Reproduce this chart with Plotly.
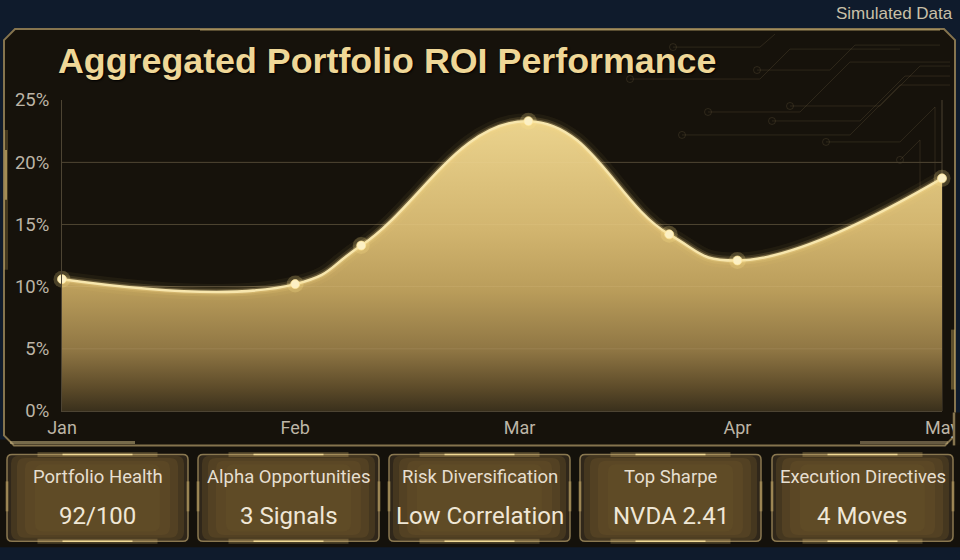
import plotly.graph_objects as go

# ---------------- data ----------------
month_pos = [1.0, 2.06, 2.36, 3.12, 3.76, 4.07, 5.0]
roi_pct = [10.6, 10.2, 13.3, 23.3, 14.2, 12.1, 18.7]
tick_pos = [1.0, 2.06, 3.08, 4.07, 5.0]
tick_months = ["Jan", "Feb", "Mar", "Apr", "May"]
y_ticks = [0, 5, 10, 15, 20, 25]
y_tick_text = [f"{v}%" for v in y_ticks]
card_labels = ["Portfolio Health", "Alpha Opportunities", "Risk Diversification",
               "Top Sharpe", "Execution Directives"]
card_values = ["92/100", "3 Signals", "Low Correlation", "NVDA 2.41", "4 Moves"]
title_text = "Aggregated Portfolio ROI Performance"
note_text = "Simulated Data"

# ---------------- geometry helpers ----------------
W, H = 960, 560
L, R, T, B = 62, 18, 100, 148.5
PW = W - L - R
PH = H - T - B


def px(x):
    return (x - L) / PW


def py(y):
    return (H - B - y) / PH


def poly(points, close=True):
    s = "M " + " L ".join(f"{px(x):.5f},{py(y):.5f}" for x, y in points)
    return s + (" Z" if close else "")


def rounded(x0, y0, x1, y1, r):
    s = f"M {px(x0 + r):.5f},{py(y0):.5f} L {px(x1 - r):.5f},{py(y0):.5f} "
    s += f"Q {px(x1):.5f},{py(y0):.5f} {px(x1):.5f},{py(y0 + r):.5f} "
    s += f"L {px(x1):.5f},{py(y1 - r):.5f} Q {px(x1):.5f},{py(y1):.5f} {px(x1 - r):.5f},{py(y1):.5f} "
    s += f"L {px(x0 + r):.5f},{py(y1):.5f} Q {px(x0):.5f},{py(y1):.5f} {px(x0):.5f},{py(y1 - r):.5f} "
    s += f"L {px(x0):.5f},{py(y0 + r):.5f} Q {px(x0):.5f},{py(y0):.5f} {px(x0 + r):.5f},{py(y0):.5f} Z"
    return s


NAVY = "#0f1b2c"
PANEL = "#16120b"
FRAME = "#85744e"

fig = go.Figure()

# filled area with vertical gold gradient
fig.add_trace(go.Scatter(
    x=month_pos, y=roi_pct, mode="lines",
    line=dict(width=0, shape="spline", smoothing=1.3, color="rgba(0,0,0,0)"),
    fill="tozeroy",
    fillgradient=dict(type="vertical", start=0, stop=24,
                      colorscale=[[0.0, "#3a301c"], [0.08, "#5e4c2a"],
                                  [0.2, "#8e7543"], [0.4, "#b99c5a"],
                                  [0.6, "#d1b46e"], [0.9, "#e6cd87"],
                                  [1.0, "#ecd590"]]),
    hoverinfo="skip", showlegend=False))

# glow layers
for w, c in [(16, "rgba(255,214,120,0.05)"), (9, "rgba(255,220,130,0.12)"),
             (5, "rgba(255,228,150,0.25)")]:
    fig.add_trace(go.Scatter(x=month_pos, y=roi_pct, mode="lines",
                             line=dict(width=w, color=c, shape="spline", smoothing=1.3),
                             hoverinfo="skip", showlegend=False, cliponaxis=False))

fig.add_trace(go.Scatter(x=month_pos, y=roi_pct, mode="lines",
                         line=dict(width=2.5, color="#f7e6ad", shape="spline", smoothing=1.3),
                         showlegend=False, cliponaxis=False))

fig.add_trace(go.Scatter(x=month_pos, y=roi_pct, mode="markers",
                         marker=dict(size=17, color="rgba(255,226,140,0.22)"),
                         hoverinfo="skip", showlegend=False, cliponaxis=False))
fig.add_trace(go.Scatter(x=month_pos, y=roi_pct, mode="markers",
                         marker=dict(size=9, color="#fcf0c4",
                                     line=dict(width=1, color="rgba(255,230,150,0.7)")),
                         showlegend=False, cliponaxis=False))

shapes = []
# dark band behind the cards
shapes.append(dict(type="rect", xref="paper", yref="paper", layer="below",
                   x0=px(0), x1=px(960), y0=py(548), y1=py(440),
                   fillcolor="#14110b", line=dict(width=0)))
# panel with bevelled corners
shapes.append(dict(type="path", xref="paper", yref="paper", layer="below",
                   path=poly([(4, 40), (15, 29), (944, 29), (955, 40), (955, 436),
                              (945, 446), (14, 446), (4, 436)]),
                   fillcolor=PANEL, line=dict(color=FRAME, width=2)))
# frame highlights
for (x0, y0, x1, y1, w, c) in [
    (10, 443, 135, 443, 3, "rgba(200,180,130,0.55)"),
    (860, 443, 948, 443, 3, "rgba(200,180,130,0.45)"),
    (200, 30, 940, 30, 2, "rgba(215,190,120,0.35)"),
    (6, 130, 6, 270, 4, "rgba(230,195,110,0.22)"),
    (6, 150, 6, 200, 2, "rgba(240,210,130,0.55)"),
    (953, 330, 953, 390, 4, "rgba(230,195,110,0.35)"),
]:
    shapes.append(dict(type="line", xref="paper", yref="paper", layer="below",
                       x0=px(x0), y0=py(y0), x1=px(x1), y1=py(y1),
                       line=dict(color=c, width=w)))

# faint circuit decorations
circ = "rgba(120,104,70,0.25)"
circuit_lines = [
    [(630, 79), (760, 79), (790, 49), (900, 49)],
    [(673, 47), (760, 47), (775, 34)],
    [(708, 112), (800, 112), (850, 62), (950, 62)],
    [(757, 70), (830, 70), (855, 45), (940, 45)],
    [(682, 135), (850, 135), (900, 85), (950, 85)],
    [(772, 121), (860, 121), (905, 76), (950, 76)],
    [(826, 142), (900, 142), (935, 107), (935, 200)],
    [(790, 106), (880, 106), (920, 66), (950, 66)],
    [(900, 160), (920, 140), (920, 230)],
    [(88, 311), (88, 380)],
    [(102, 323), (102, 385), (80, 405)],
]
for pts in circuit_lines:
    shapes.append(dict(type="path", xref="paper", yref="paper", layer="below",
                       path=poly(pts, close=False), line=dict(color=circ, width=1)))
    x, y = pts[0]
    shapes.append(dict(type="circle", xref="paper", yref="paper", layer="below",
                       x0=px(x - 3.5), x1=px(x + 3.5), y0=py(y + 3.5), y1=py(y - 3.5),
                       line=dict(color=circ, width=1), fillcolor="rgba(0,0,0,0)"))

# faint grid lines showing through the fill
for v in y_ticks[1:-1]:
    shapes.append(dict(type="line", xref="paper", yref="y", layer="above",
                       x0=0, x1=1, y0=v, y1=v,
                       line=dict(color="rgba(255,238,190,0.10)", width=1)))

# right plot border and faint light bars
shapes.append(dict(type="line", xref="paper", yref="paper", layer="below",
                   x0=1, x1=1, y0=0, y1=1, line=dict(color="#4a4131", width=1)))
shapes.append(dict(type="line", xref="paper", yref="paper", layer="below",
                   x0=px(925), x1=px(925), y0=py(200), y1=py(260),
                   line=dict(color="rgba(230,200,120,0.15)", width=5)))
shapes.append(dict(type="line", xref="paper", yref="paper", layer="below",
                   x0=px(925), x1=px(925), y0=py(275), y1=py(350),
                   line=dict(color="rgba(230,200,120,0.10)", width=5)))

# cards
annotations = []
card_x0 = [7, 198, 389, 580, 772]
CW = 181
for i, (lab, val) in enumerate(zip(card_labels, card_values)):
    x0 = card_x0[i]
    x1 = x0 + CW
    cx = (x0 + x1) / 2
    shapes.append(dict(type="path", xref="paper", yref="paper", layer="below",
                       path=rounded(x0, 455, x1, 542, 5),
                       fillcolor="#30271a", line=dict(color="#8a7850", width=1.5)))
    for k, (ins, a) in enumerate([(4, 0.35), (10, 0.35), (18, 0.3), (28, 0.25)]):
        shapes.append(dict(type="path", xref="paper", yref="paper", layer="below",
                           path=rounded(x0 + ins, 455 + ins * 0.35, x1 - ins, 542 - ins * 0.35, 8),
                           fillcolor=f"rgba(108,86,44,{a})", line=dict(width=0)))
    for yy in (455, 542):
        shapes.append(dict(type="line", xref="paper", yref="paper", layer="below",
                           x0=px(cx - 60), x1=px(cx + 60), y0=py(yy), y1=py(yy),
                           line=dict(color="rgba(255,220,130,0.22)", width=5)))
        shapes.append(dict(type="line", xref="paper", yref="paper", layer="below",
                           x0=px(cx - 35), x1=px(cx + 35), y0=py(yy), y1=py(yy),
                           line=dict(color="rgba(255,232,160,0.85)", width=1.5)))
    for xx in (x0, x1):
        shapes.append(dict(type="line", xref="paper", yref="paper", layer="below",
                           x0=px(xx), x1=px(xx), y0=py(482), y1=py(512),
                           line=dict(color="rgba(255,220,130,0.3)", width=3)))
    annotations.append(dict(x=px(cx), y=py(478), xref="paper", yref="paper",
                            text=lab, showarrow=False, xanchor="center", yanchor="middle",
                            font=dict(family="Roboto", size=18.5, color="#e6dfd0")))
    annotations.append(dict(x=px(cx), y=py(517), xref="paper", yref="paper",
                            text=val, showarrow=False, xanchor="center", yanchor="middle",
                            font=dict(family="Roboto", size=24, color="#efe7d6")))

# cover to clip last tick label at the frame, then frame edge again
shapes.append(dict(type="rect", xref="paper", yref="paper", layer="above",
                   x0=px(954), x1=px(961), y0=py(446), y1=py(413),
                   fillcolor=PANEL, line=dict(width=0)))
shapes.append(dict(type="line", xref="paper", yref="paper", layer="above",
                   x0=px(954), x1=px(954), y0=py(446), y1=py(413),
                   line=dict(color=FRAME, width=2.5)))

annotations.append(dict(x=px(955), y=py(13), xref="paper", yref="paper",
                        text=note_text, showarrow=False, xanchor="right", yanchor="middle",
                        font=dict(family="Liberation Sans", size=17, color="#c9c0a8")))

fig.update_layout(
    width=W, height=H,
    margin=dict(l=L, r=R, t=T, b=B, pad=0, autoexpand=False),
    paper_bgcolor=NAVY,
    plot_bgcolor="rgba(0,0,0,0)",
    title=dict(text=f"<b>{title_text}</b>", x=58 / W, xanchor="left", xref="container",
               y=1 - 60 / H, yanchor="middle", yref="container", automargin=False,
               font=dict(family="Liberation Sans", size=35.8, color="#efd797",
                         shadow="1px 1px 2px #000000")),
    shapes=shapes,
    annotations=annotations,
    showlegend=False,
    xaxis=dict(range=[1, 5], tickvals=tick_pos, ticktext=tick_months, automargin=False,
               showgrid=False, zeroline=False, showline=True, linecolor="#4d4433",
               linewidth=1, ticks="", tickfont=dict(family="Roboto", size=18, color="#bdb5a6"),
               fixedrange=True),
    yaxis=dict(range=[0, 25], tickvals=y_ticks, ticktext=y_tick_text, automargin=False,
               showgrid=True, gridcolor="#3b3324", gridwidth=1, zeroline=False,
               showline=True, linecolor="#4d4433", linewidth=1, ticks="",
               ticklabelstandoff=8,
               tickfont=dict(family="Roboto", size=18.5, color="#bdb5a6"), fixedrange=True),
)

fig.write_html("out.html",
               config={"displayModeBar": False},
               post_script="document.documentElement.style.margin='0';"
                           "document.documentElement.style.overflow='hidden';"
                           "document.body.style.margin='0';"
                           "document.body.style.overflow='hidden';"
                           "document.body.style.background='#0f1b2c';")
